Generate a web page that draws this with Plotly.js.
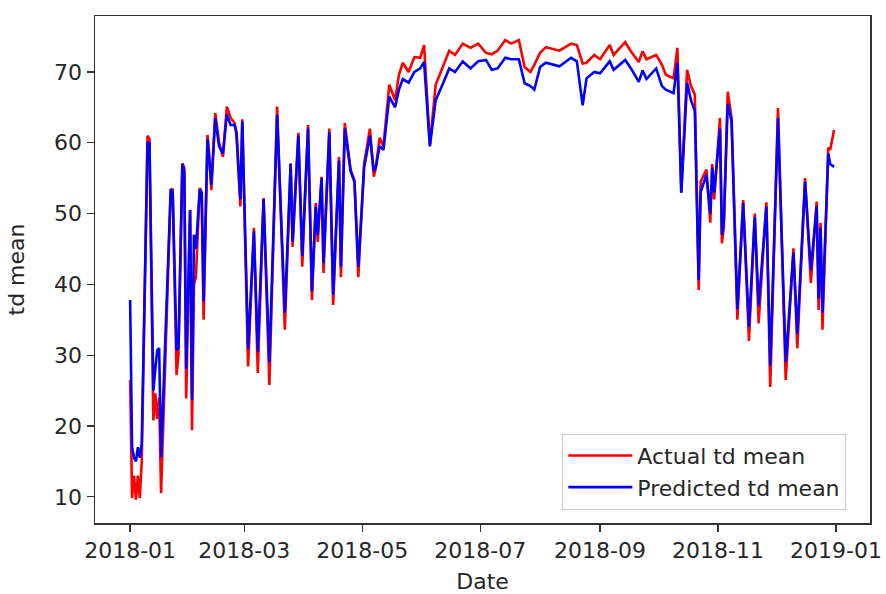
<!DOCTYPE html>
<html>
<head>
<meta charset="utf-8">
<script src="https://cdn.plot.ly/plotly-3.0.1.min.js"></script>
<style>
  html, body { margin: 0; padding: 0; background: #ffffff; }
  #chart { width: 886px; height: 594px; }
</style>
</head>
<body>
<div id="chart"></div>
<script>
// Day-of-year offsets (0 = 2018-01-01) of the visible vertices
const dayOffsets = [0,1,2,3,4,5,6,9,10,12,13,14,15,16,21,22,24,25,27,28,29,31,32,33,34,36,37,38,40,41,42,44,46,48,50,52,54,55,57,58,61,64,66,69,72,76,80,83,84,87,89,92,94,96,97,99,100,103,105,108,109,111,114,116,118,121,124,126,127,129,131,134,137,139,141,144,147,150,152,155,158,162,165,168,172,176,180,184,187,190,194,197,201,204,207,209,212,215,222,228,231,234,236,240,243,248,250,256,259,263,265,267,272,275,277,281,283,285,288,290,292,294,295,298,300,301,302,305,306,307,309,311,314,317,320,323,325,329,331,335,339,343,345,349,352,355,356,357,358,361,362,364];

const actualTd = [26.5,9.8,13,9.6,13,9.8,15,61,60.5,20.8,24.6,21,24,10.5,53.3,53.5,27.2,30,57.1,56.5,23.9,50.5,19.4,40,41,53.6,53,35,61.1,58,53.3,64.2,60,58,65.1,63.5,62.8,61,51,63.3,28.4,48,27.5,52.2,25.8,65.1,33.6,57.1,45.3,61.4,42.5,62.5,37.8,51.5,46,55.2,41.6,62,37.1,58,41,62.8,56.2,54.7,41,57.1,62,55.2,56.4,60.7,59.5,68.2,66,69.6,71.3,70,72.1,72,73.8,59.7,68.2,71,73,72.4,74,73.4,74,72.7,72.5,73,74.5,74,74.5,70.7,70,71,72.7,73.5,73,74,73.8,71.2,71.3,72.4,71.8,73.8,72.4,74.2,72.9,71.4,72.9,71.8,72.4,71,69.6,69.1,73.4,52.9,70.3,68,66.8,39.2,54.5,56.2,48.7,57,52,63.5,45.8,48,67.2,63.5,35,51.9,32,50,34.5,51.6,25.5,64.9,26.5,45.1,31,55,40.2,51.7,36.4,48.7,33.6,59.3,59,61.8];

const predictedTd = [37.8,17,15.5,15,17,15.5,17.5,60,60,25,28,30.7,31,15.6,53.5,53,30.7,31,57,56,28,50.5,23.7,47,45,53.4,53,37.6,60.5,57,54,63.5,59.5,58.5,64,62.5,62.5,61.5,52,63,30.9,47.5,30.5,52,29,64,36,57,46,61,44,62,39,51,47,55,43,61.5,38.5,57.5,42.5,62,56,54.5,42.5,56.5,61,56,56.5,59.5,59,66.5,65,67.5,69,68.5,70,70.5,71.4,59.5,66,68.5,70.5,70,71.5,70.5,71.5,71.7,70.3,70.5,72,71.8,71.8,68.4,68,67.5,70.7,71.3,70.8,72,71.5,65.3,69.1,70,69.8,71.5,70.3,71.7,70.5,68.6,70.2,69,70.5,68,67.5,67,71.3,53,68.5,66,64.5,40.6,53,55.5,50,56.5,53,62,47,49,65.5,63,36.5,51.5,34,49.5,37,51,28.5,63.5,29,44.5,33,54.5,42,51,38,48,36,58.5,57,56.6];

const tickDates = ['2018-01-01','2018-03-01','2018-05-01','2018-07-01','2018-09-01','2018-11-01','2019-01-01'];
const tickLabels = ['2018-01','2018-03','2018-05','2018-07','2018-09','2018-11','2019-01'];
const yTicks = [10,20,30,40,50,60,70];

function dayToDate(d) {
  const t = new Date(Date.UTC(2018, 0, 1) + d * 86400000);
  return t.toISOString().slice(0, 10);
}
const dates = dayOffsets.map(dayToDate);

const font = { family: 'DejaVu Sans, sans-serif', size: 22, color: '#262626' };

const traces = [
  { x: dates, y: actualTd, type: 'scatter', mode: 'lines', name: 'Actual td mean',
    line: { color: '#ff0000', width: 2.6 } },
  { x: dates, y: predictedTd, type: 'scatter', mode: 'lines', name: 'Predicted td mean',
    line: { color: '#0000ff', width: 2.6 } }
];

const layout = {
  width: 886, height: 594,
  margin: { l: 95, r: 16, t: 16, b: 71 },
  paper_bgcolor: '#ffffff', plot_bgcolor: '#ffffff',
  font: font,
  showlegend: true,
  legend: {
    x: 0.603, y: 0.176, xanchor: 'left', yanchor: 'top',
    bgcolor: 'rgba(255,255,255,0.8)', bordercolor: '#cccccc', borderwidth: 1,
    font: font, itemwidth: 64
  },
  xaxis: {
    type: 'date',
    range: ['2017-12-13 20:00', '2019-01-18 14:00'],
    tickvals: tickDates, ticktext: tickLabels,
    ticks: 'outside', ticklen: 7, tickwidth: 1.3, tickcolor: '#333',
    showline: true, mirror: true, linecolor: '#333', linewidth: 1.5,
    showgrid: false, zeroline: false,
    tickfont: font,
    title: { text: 'Date', font: font, standoff: 12 }
  },
  yaxis: {
    range: [6.3, 77.9],
    tickvals: yTicks,
    ticks: 'outside', ticklen: 7, tickwidth: 1.3, tickcolor: '#333',
    showline: true, mirror: true, linecolor: '#333', linewidth: 1.5,
    showgrid: false, zeroline: false,
    tickfont: font,
    title: { text: 'td mean', font: font, standoff: 23 }
  }
};

Plotly.newPlot('chart', traces, layout, { displayModeBar: false, staticPlot: true });
</script>
</body>
</html>
